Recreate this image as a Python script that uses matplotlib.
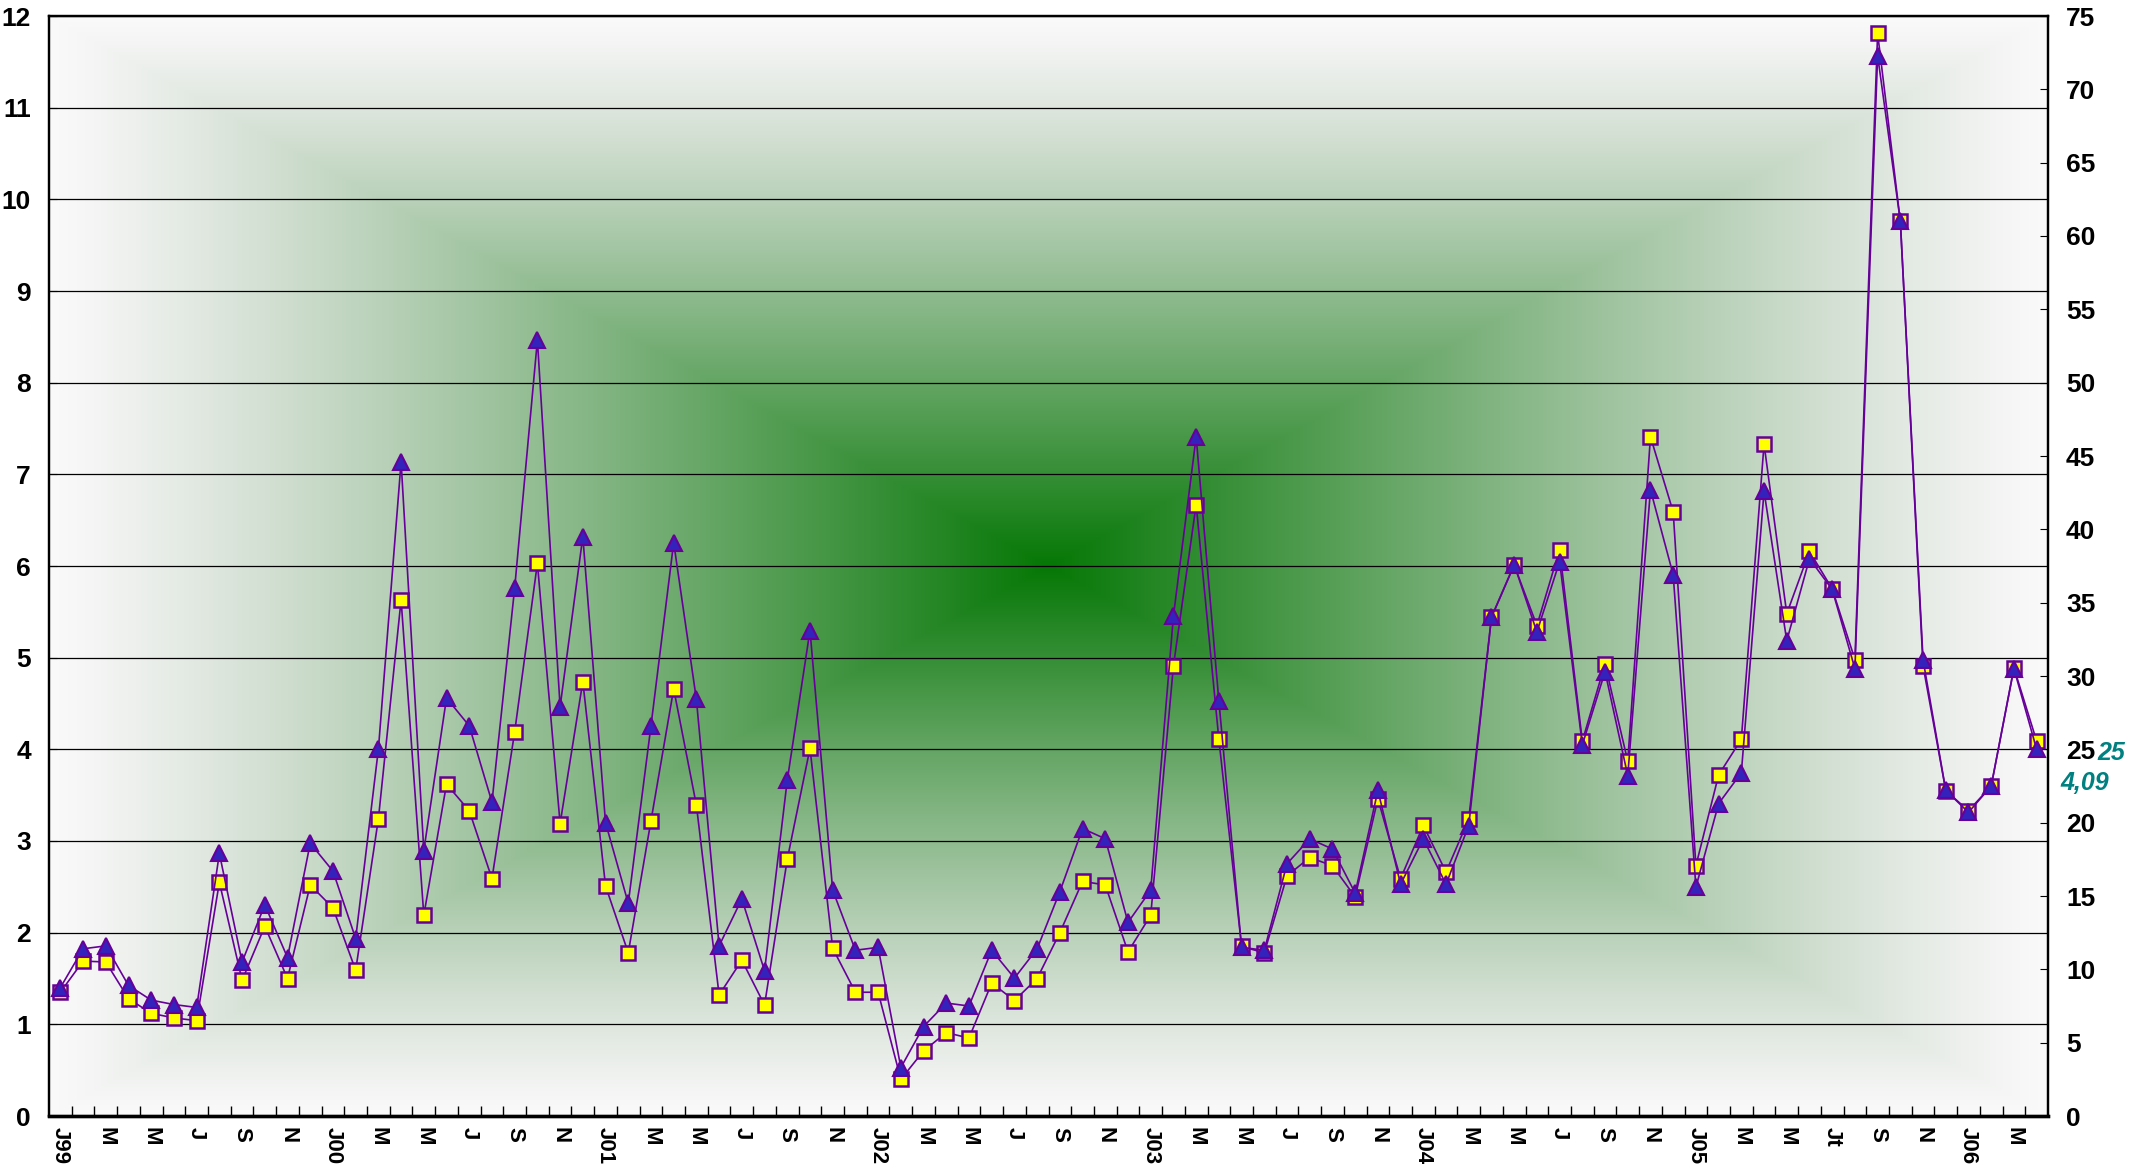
import numpy as np
import matplotlib.pyplot as plt

plt.rcParams['font.family'] = ['Liberation Sans', 'DejaVu Sans']
plt.rcParams['font.weight'] = 'bold'

# monthly points, Jan 1999 .. Apr 2006
months = np.arange(88)

tick_labels = ["J99", "M", "M", "J", "S", "N",
               "J00", "M", "M", "J", "S", "N",
               "J01", "M", "M", "J", "S", "N",
               "J02", "M", "M", "J", "S", "N",
               "J03", "M", "M", "J", "S", "N",
               "J04", "M", "M", "J", "S", "N",
               "J05", "M", "M", "Jt", "S", "N",
               "J06", "M"]

# left axis series (yellow squares)
squares = [1.35, 1.69, 1.68, 1.28, 1.12, 1.07, 1.04, 2.55, 1.48, 2.07, 1.50, 2.52,
           2.27, 1.59, 3.24, 5.63, 2.19, 3.62, 3.33, 2.59, 4.19, 6.03, 3.19, 4.74,
           2.51, 1.78, 3.22, 4.66, 3.39, 1.32, 1.70, 1.21, 2.80, 4.01, 1.83, 1.35,
           1.35, 0.40, 0.71, 0.91, 0.85, 1.45, 1.26, 1.50, 2.00, 2.56, 2.52, 1.79,
           2.19, 4.91, 6.67, 4.11, 1.85, 1.78, 2.62, 2.82, 2.73, 2.39, 3.46, 2.59,
           3.17, 2.66, 3.24, 5.44, 6.01, 5.35, 6.18, 4.09, 4.93, 3.87, 7.41, 6.59,
           2.73, 3.72, 4.11, 7.33, 5.48, 6.16, 5.75, 4.98, 11.81, 9.76, 4.91, 3.55,
           3.33, 3.60, 4.89, 4.09]

# right axis series (blue triangles)
triangles = [8.75, 11.4, 11.6, 8.9, 7.9, 7.6, 7.4, 17.9, 10.5, 14.4, 10.8, 18.6,
             16.7, 12.1, 25.0, 44.6, 18.1, 28.5, 26.6, 21.4, 36.0, 52.9, 27.9, 39.5,
             20.0, 14.5, 26.6, 39.1, 28.4, 11.6, 14.8, 9.9, 22.9, 33.1, 15.4, 11.3,
             11.5, 3.3, 6.1, 7.7, 7.5, 11.3, 9.4, 11.4, 15.3, 19.6, 18.9, 13.2,
             15.4, 34.1, 46.3, 28.3, 11.5, 11.3, 17.2, 18.9, 18.2, 15.2, 22.2, 15.8,
             18.9, 15.8, 19.8, 34.0, 37.6, 33.0, 37.8, 25.3, 30.3, 23.2, 42.7, 36.9,
             15.6, 21.3, 23.4, 42.6, 32.4, 38.0, 35.9, 30.5, 72.3, 61.0, 31.1, 22.2,
             20.7, 22.5, 30.5, 25.0]

W, H = 2134, 1173
fig = plt.figure(figsize=(W / 100, H / 100), dpi=100)
fig.patch.set_facecolor("white")
ax = fig.add_axes([49 / W, 57 / H, 1999 / W, 1100 / H])

# green rectangular "from centre" fill
gx = np.linspace(-1, 1, 1000)
gy = np.linspace(-1, 1, 600)
t = np.maximum(np.abs(gx)[None, :], np.abs(gy)[:, None])
w = 1 - t
edge = np.array([0.98, 0.98, 0.98])
centre = np.array([0.02, 0.47, 0.02])
img = np.empty(t.shape + (3,))
img[..., 1] = edge[1] + (centre[1] - edge[1]) * w ** 1.05
img[..., 0] = edge[0] + (centre[0] - edge[0]) * w ** 1.2
img[..., 2] = edge[2] + (centre[2] - edge[2]) * w ** 1.2
ax.imshow(img, extent=[-0.5, 87.5, 0, 12], aspect="auto", zorder=0,
          interpolation="bilinear")

ax.set_xlim(-0.5, 87.5)
ax.set_ylim(0, 12)
ax.set_axisbelow(True)
ax.set_yticks(range(13))
ax.yaxis.grid(True, color="black", lw=0.9)

ax.plot(months, squares, color="#660099", lw=1.2, marker="s", ms=10,
        mfc="#FFFF00", mec="#660099", mew=1.8, zorder=3)

ax2 = ax.twinx()
ax2.set_ylim(0, 75)
ax2.set_yticks(range(0, 80, 5))
ax2.plot(months, triangles, color="#660099", lw=1.2, marker="^", ms=11,
         mfc="#3322BB", mec="#660099", mew=1.5, zorder=3)

ax.set_xticks(months[::2], tick_labels, rotation=-90, va="top", ha="center")
ax.set_xticks(months[:-1] + 0.5, minor=True)
ax.tick_params(axis="x", which="major", length=0, pad=8, labelsize=16)
ax.tick_params(axis="x", which="minor", direction="in", length=7, width=1)
ax.tick_params(axis="y", direction="in", length=6, pad=13, labelsize=19)
ax2.tick_params(axis="y", direction="in", length=6, pad=13, labelsize=19)
for lab in ax.get_xticklabels() + ax.get_yticklabels() + ax2.get_yticklabels():
    lab.set_fontweight("bold")

for a in (ax, ax2):
    for s in a.spines.values():
        s.set_linewidth(1.6)
        s.set_color("black")
    a.spines["bottom"].set_linewidth(2.4)

ax2.annotate("25", xy=(1, triangles[-1]), xycoords=("axes fraction", "data"),
             xytext=(63, -4), textcoords="offset pixels", ha="center", va="center",
             color="#008080", style="italic", fontweight="bold", fontsize=18)
ax2.annotate("4,09", xy=(1, triangles[-1]), xycoords=("axes fraction", "data"),
             xytext=(37, -34), textcoords="offset pixels", ha="center", va="center",
             color="#008080", style="italic", fontweight="bold", fontsize=18)

fig.savefig("out.png", dpi=100)
